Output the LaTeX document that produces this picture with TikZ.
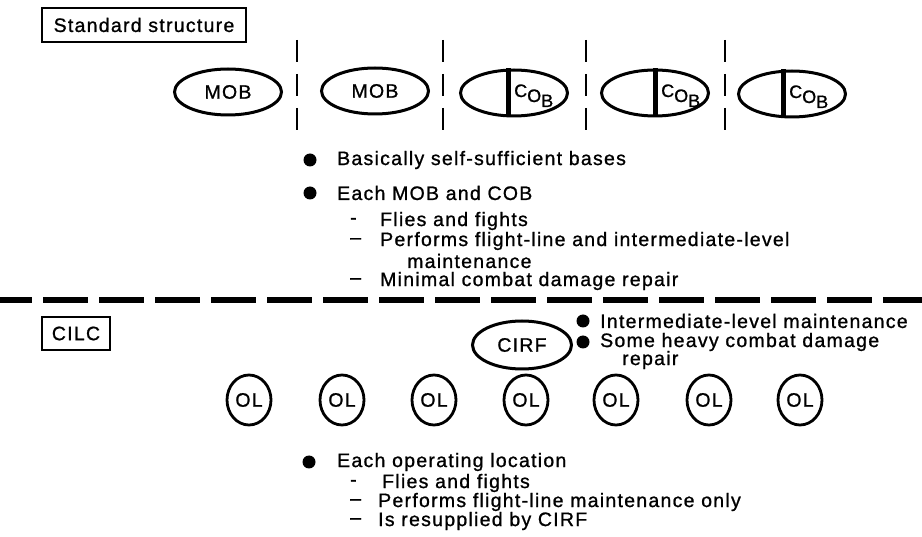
\documentclass[tikz,border=0pt]{standalone}
\usepackage{fontspec}
\setmainfont{Liberation Sans}[LetterSpace=6.5,FakeBold=1]
\usetikzlibrary{shapes.geometric}
\begin{document}
\begin{tikzpicture}[x=1pt,y=-1pt,
  txt/.style={font=\fontsize{19.5}{22}\selectfont, inner sep=0pt, anchor=west},
  ell/.style={draw, ellipse, line width=3pt, minimum width=107pt, minimum height=46pt, inner sep=0pt, font=\fontsize{19.5}{22}\selectfont},
  olnode/.style={draw, ellipse, line width=2.8pt, minimum width=44pt, minimum height=50pt, inner sep=0pt, font=\fontsize{19.5}{22}\selectfont},
  sepline/.style={line width=1.8pt, dash pattern=on 22pt off 12pt},
  bul/.style={circle, fill, inner sep=0pt, minimum size=13pt},
  boxed/.style={draw, line width=1.5pt, inner sep=0pt, font=\fontsize{19.5}{22}\selectfont},
  cobbar/.style={line width=5pt},
  cobtxt/.style={font=\fontsize{18}{20}\selectfont, inner sep=0pt, anchor=base west}
]
\useasboundingbox (0,0) rectangle (922,537);

% ---------- Standard structure ----------
\node[boxed, minimum width=204pt, minimum height=34pt] (std) at (144,25) {Standard structure};

% separators
\foreach \i/\x in {1/297,2/443,3/586,4/725}{
  \coordinate (s\i t) at (\x,40);
  \coordinate (s\i b) at (\x,130);
  \draw[sepline] (s\i t) -- (s\i b);
}

% ellipses
\node[ell] (mob1) at (228,92) {MOB};
\node[ell] (mob2) at (375,91) {MOB};
\node[ell] (cob1) at (514,93) {};
\node[ell] (cob2) at (655,93) {};
\node[ell] (cob3) at (792,94) {};

\draw[cobbar] ([xshift=-6pt]cob1.north) -- ([xshift=-6pt]cob1.south);
\draw[cobbar] ([xshift=0pt]cob2.north) -- ([xshift=0pt]cob2.south);
\draw[cobbar] ([xshift=-9pt]cob3.north) -- ([xshift=-9pt]cob3.south);

\node[cobtxt] (c1) at (514,97) {C\raisebox{-5pt}{O}\raisebox{-10pt}{B}};
\node[cobtxt] (c2) at (661,97) {C\raisebox{-5pt}{O}\raisebox{-10pt}{B}};
\node[cobtxt] (c3) at (789,98) {C\raisebox{-5pt}{O}\raisebox{-10pt}{B}};

% top list
\node[bul] (b1) at (310,160) {};
\node[txt] (t1) at (337,160) {Basically self-sufficient bases};
\node[bul] (b2) at (310,193) {};
\node[txt] (t2) at (337,193) {Each MOB and COB};
\node[txt] (d1) at (350,221) {-};
\node[txt] (t3) at (380,221) {Flies and fights};
\node[txt] (d2) at (350,241) {–};
\node[txt] (t4) at (380,241) {Performs flight-line and intermediate-level};
\node[txt] (t5) at (407,261) {maintenance};
\node[txt] (d3) at (350,281) {–};
\node[txt] (t6) at (380,281) {Minimal combat damage repair};

% horizontal dashed divider
\coordinate (hl) at (-13,300);
\coordinate (hr) at (935,300);
\draw[line width=6pt, dash pattern=on 45pt off 11pt] (hl) -- (hr);

% ---------- CILC ----------
\node[boxed, minimum width=68pt, minimum height=33pt] (cilc) at (76,333.5) {CILC};

\node[ell, minimum width=99pt, minimum height=48pt] (cirf) at (522,345) {CIRF};
\node[bul] (b3) at (583,321) {};
\node[txt] (t7) at (600,321) {Intermediate-level maintenance};
\node[bul] (b4) at (583,342) {};
\node[txt] (t8) at (600,342) {Some heavy combat damage};
\node[txt] (t9) at (622,360) {repair};

\foreach \i/\x in {1/249,2/342,3/434,4/526,5/616,6/709,7/800}{
  \node[olnode] (ol\i) at (\x,400) {OL};
}

% bottom list
\node[bul] (b5) at (309,462) {};
\node[txt] (t10) at (337,462) {Each operating location};
\node[txt] (d4) at (350,483) {-};
\node[txt] (t11) at (382,483) {Flies and fights};
\node[txt] (d5) at (350,502) {–};
\node[txt] (t12) at (378,502) {Performs flight-line maintenance only};
\node[txt] (d6) at (350,521) {–};
\node[txt] (t13) at (378,521) {Is resupplied by CIRF};
\end{tikzpicture}
\end{document}
